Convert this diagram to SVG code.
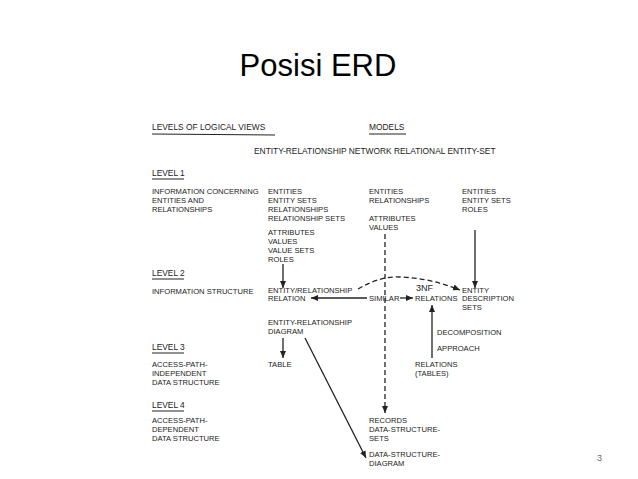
<svg xmlns="http://www.w3.org/2000/svg" width="638" height="479" viewBox="0 0 638 479">
<style>
text{font-family:"Liberation Sans",Arial,sans-serif;fill:#222}
.t{font-size:7.6px}
.h{font-size:8.4px}
.ln{stroke:#222;stroke-width:1.3;fill:none}
.d{stroke:#222;stroke-width:1.3;fill:none;stroke-dasharray:5,3}
</style>
<defs><marker id="a" markerWidth="8" markerHeight="8" refX="7" refY="4" orient="auto" markerUnits="userSpaceOnUse"><path d="M0,1L7,4L0,7z" fill="#222"/></marker></defs>
<rect width="638" height="479" fill="#fff"/>
<text x="318" y="76" font-size="31" text-anchor="middle" style="fill:#000">Posisi ERD</text>
<text x="597" y="461" font-size="9" style="fill:#666">3</text>
<g id="headers" class="h">
<text x="152" y="130">LEVELS OF LOGICAL VIEWS</text>
<line x1="152" y1="134" x2="275" y2="135" stroke="#222"/>
<text x="369" y="130">MODELS</text>
<line x1="369" y1="134" x2="406" y2="134" stroke="#222"/>
<text x="254" y="154">ENTITY-RELATIONSHIP  NETWORK  RELATIONAL  ENTITY-SET</text>
<text x="152" y="176">LEVEL 1</text><line x1="152" y1="179" x2="184" y2="179" stroke="#222"/>
<text x="152" y="276">LEVEL 2</text><line x1="152" y1="279" x2="184" y2="279" stroke="#222"/>
<text x="152" y="350">LEVEL 3</text><line x1="152" y1="353" x2="184" y2="353" stroke="#222"/>
<text x="152" y="408">LEVEL 4</text><line x1="152" y1="411" x2="184" y2="411" stroke="#222"/>
</g>
<g id="level-desc" class="t">
<text x="152" y="194">INFORMATION CONCERNING</text><text x="152" y="203">ENTITIES AND</text><text x="152" y="212">RELATIONSHIPS</text>
<text x="152" y="294">INFORMATION STRUCTURE</text>
<text x="152" y="367">ACCESS-PATH-</text><text x="152" y="376">INDEPENDENT</text><text x="152" y="385">DATA STRUCTURE</text>
<text x="152" y="423">ACCESS-PATH-</text><text x="152" y="432">DEPENDENT</text><text x="152" y="441">DATA STRUCTURE</text>
</g>
<g id="er-l1" class="t"><text x="268" y="194">ENTITIES</text><text x="268" y="203">ENTITY SETS</text><text x="268" y="212">RELATIONSHIPS</text><text x="268" y="221">RELATIONSHIP SETS</text>
<text x="268" y="235">ATTRIBUTES</text><text x="268" y="244">VALUES</text><text x="268" y="253">VALUE SETS</text><text x="268" y="262">ROLES</text></g>
<g id="net-l1" class="t"><text x="369" y="194">ENTITIES</text><text x="369" y="203">RELATIONSHIPS</text><text x="369" y="221">ATTRIBUTES</text><text x="369" y="230">VALUES</text></g>
<g id="es-l1" class="t"><text x="462" y="194">ENTITIES</text><text x="462" y="203">ENTITY SETS</text><text x="462" y="212">ROLES</text></g>
<g id="er-rel" class="t"><text x="268" y="293">ENTITY/RELATIONSHIP</text><text x="268" y="301">RELATION</text></g>
<g id="similar" class="t"><text x="369" y="301">SIMILAR</text></g>
<g id="nf3" class="t"><text x="416" y="291" font-size="9">3NF</text><text x="415" y="301">RELATIONS</text></g>
<g id="eds" class="t"><text x="462" y="293">ENTITY</text><text x="462" y="301">DESCRIPTION</text><text x="462" y="310">SETS</text></g>
<g id="erd" class="t"><text x="268" y="325">ENTITY-RELATIONSHIP</text><text x="268" y="334">DIAGRAM</text></g>
<g id="table" class="t"><text x="268" y="367">TABLE</text></g>
<g id="decomp" class="t"><text x="437" y="335">DECOMPOSITION</text><text x="437" y="351">APPROACH</text></g>
<g id="reltab" class="t"><text x="415" y="367">RELATIONS</text><text x="415" y="376">(TABLES)</text></g>
<g id="records" class="t"><text x="369" y="423">RECORDS</text><text x="369" y="432">DATA-STRUCTURE-</text><text x="369" y="441">SETS</text></g>
<g id="dsd" class="t"><text x="369" y="457">DATA-STRUCTURE-</text><text x="369" y="466">DIAGRAM</text></g>
<g id="connectors">
<line class="ln" x1="283" y1="264" x2="283" y2="288" marker-end="url(#a)"/>
<line class="ln" x1="475" y1="230" x2="475" y2="288" marker-end="url(#a)"/>
<line class="d" x1="385" y1="234" x2="385" y2="413" marker-end="url(#a)"/>
<path class="d" d="M358,289 Q380,276 400,277 Q430,278 460,290" marker-end="url(#a)"/>
<line class="ln" x1="367" y1="298" x2="311" y2="298" marker-end="url(#a)"/>
<line class="ln" x1="400" y1="298" x2="413" y2="298" marker-end="url(#a)"/>
<line class="ln" x1="432" y1="358" x2="432" y2="305" marker-end="url(#a)"/>
<line class="ln" x1="283" y1="338" x2="283" y2="358" marker-end="url(#a)"/>
<line class="ln" x1="305" y1="338" x2="366" y2="458" marker-end="url(#a)"/>
</g>
</svg>
